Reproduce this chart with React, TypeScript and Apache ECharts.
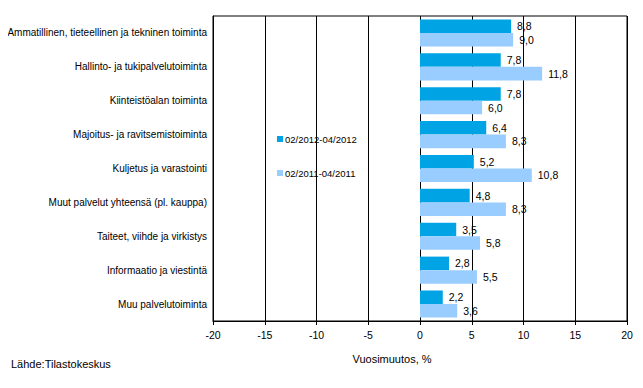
import React, { useEffect, useRef } from "react";
import * as echarts from "echarts";

const categories = [
  "Ammatillinen, tieteellinen ja tekninen toiminta",
  "Hallinto- ja tukipalvelutoiminta",
  "Kiinteistöalan toiminta",
  "Majoitus- ja ravitsemistoiminta",
  "Kuljetus ja varastointi",
  "Muut palvelut yhteensä (pl. kauppa)",
  "Taiteet, viihde ja virkistys",
  "Informaatio ja viestintä",
  "Muu palvelutoiminta",
];
const series2012 = [8.8, 7.8, 7.8, 6.4, 5.2, 4.8, 3.5, 2.8, 2.2];
const series2011 = [9.0, 11.8, 6.0, 8.3, 10.8, 8.3, 5.8, 5.5, 3.6];
const seriesNames = ["02/2012-04/2012", "02/2011-04/2011"];
const xTicks = [-20, 20, 5];

const fmt = (v: number) => v.toFixed(1).replace(".", ",");
const FONT = "Arial, 'Liberation Sans', sans-serif";

export default function App() {
  const ref = useRef<HTMLDivElement>(null);
  useEffect(() => {
    const chart = echarts.init(ref.current!, null, { renderer: "svg" });
    const labelStyle = {
      show: true,
      position: "right" as const,
      distance: 6,
      color: "#000",
      fontSize: 10.5,
      fontFamily: FONT,
      formatter: (p: any) => fmt(p.value),
    };
    chart.setOption({
      animation: false,
      backgroundColor: "#fff",
      textStyle: { fontFamily: FONT },
      grid: {
        left: 213,
        right: 16,
        top: 16,
        bottom: 67,
        show: true,
        borderColor: "#000",
        borderWidth: 1,
        containLabel: false,
      },
      legend: {
        orient: "vertical",
        left: 272,
        top: 129,
        itemGap: 24,
        itemWidth: 6,
        itemHeight: 6,
        icon: "rect",
        textStyle: { fontSize: 9.5, color: "#000", fontFamily: FONT, padding: [0, 0, 0, -3] },
        data: seriesNames,
      },
      xAxis: {
        type: "value",
        min: xTicks[0],
        max: xTicks[1],
        interval: xTicks[2],
        axisLine: { show: true, lineStyle: { color: "#000", width: 1 } },
        axisTick: { show: true, length: 4, lineStyle: { color: "#000" } },
        axisLabel: { fontSize: 10.5, color: "#000", margin: 8, fontFamily: FONT },
        splitLine: { show: true, lineStyle: { color: "#000", width: 1 } },
      },
      yAxis: {
        type: "category",
        data: categories,
        inverse: true,
        axisLine: { show: true, onZero: false, lineStyle: { color: "#000" } },
        axisTick: { show: false },
        axisLabel: { fontSize: 10, color: "#000", margin: 6, fontFamily: FONT },
        splitLine: { show: false },
      },
      series: [
        {
          name: seriesNames[0],
          type: "bar",
          data: series2012,
          itemStyle: { color: "#00A3E3" },
          barGap: "0%",
          barCategoryGap: "20%",
          label: labelStyle,
        },
        {
          name: seriesNames[1],
          type: "bar",
          data: series2011,
          itemStyle: { color: "#99CCFF" },
          barGap: "0%",
          barCategoryGap: "20%",
          label: labelStyle,
        },
      ],
      graphic: [
        {
          type: "text",
          x: 392,
          y: 359,
          style: {
            text: "Vuosimuutos, %",
            fontSize: 11,
            fill: "#000",
            fontFamily: FONT,
            align: "center",
            verticalAlign: "middle",
          },
        },
        {
          type: "text",
          x: 11,
          y: 364,
          style: {
            text: "Lähde:Tilastokeskus",
            fontSize: 11,
            fill: "#000",
            fontFamily: FONT,
            verticalAlign: "middle",
          },
        },
      ],
    });
    return () => chart.dispose();
  }, []);
  return <div ref={ref} style={{ width: 643, height: 388, margin: -8 }} />;
}
